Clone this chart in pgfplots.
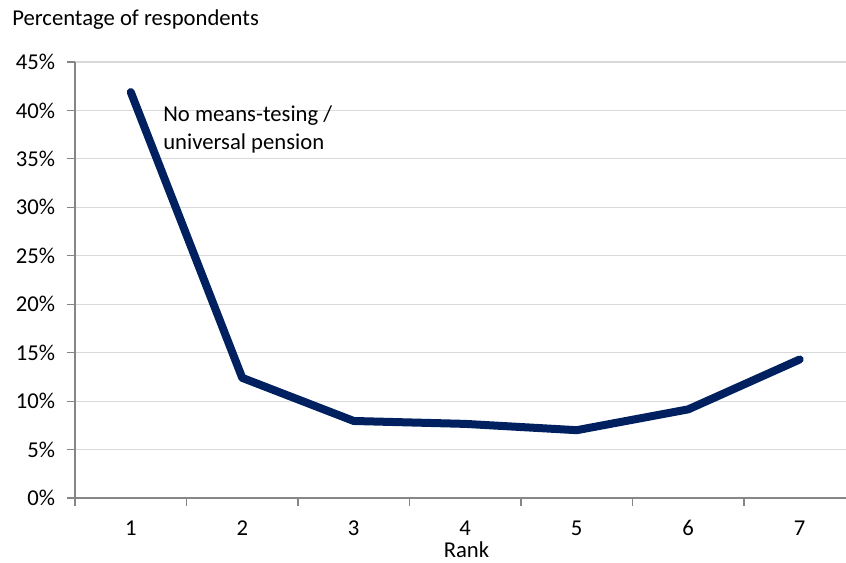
\documentclass[border=0pt]{standalone}
\usepackage{pgfplots}
\pgfplotsset{compat=1.18}
\usepackage{fontspec}
\setmainfont{Carlito}
\definecolor{navy}{RGB}{0,32,96}
\definecolor{axisgrey}{RGB}{134,134,134}
\definecolor{gridgrey}{RGB}{217,217,217}
\begin{document}
\begin{tikzpicture}[x=1pt,y=1pt]
\fontsize{17}{20}\selectfont
\path[use as bounding box] (-56.25,-48) rectangle (578.25,373.5);
\begin{axis}[
  at={(0,0)}, anchor=south west,
  scale only axis,
  width=578.25pt, height=327pt,
  xmin=0.5, xmax=7.415,
  ymin=0, ymax=45,
  axis x line*=bottom, axis y line*=left,
  axis line style={axisgrey, line width=0.9pt},
  xtick={1,...,7},
  minor xtick={0.5,1.5,...,7.5},
  major x tick style={draw=none},
  minor x tick style={axisgrey, line width=0.9pt},
  minor tick length=6pt,
  ytick={0,5,...,45},
  yticklabel={\pgfmathprintnumber{\tick}\%},
  /pgf/number format/assume math mode=true,
  y tick style={axisgrey, line width=0.9pt},
  major tick length=6pt,
  tick align=outside,
  ymajorgrids,
  grid style={gridgrey, line width=0.9pt},
  ticklabel style={font=\fontsize{17}{20}\selectfont},
  yticklabel style={xshift=-3pt},
  xticklabel style={yshift=-5pt},
  xlabel={Rank},
  xlabel style={font=\fontsize{17}{20}\selectfont, at={(axis description cs:0.5,0)}, anchor=center, yshift=-38.5pt, xshift=4.5pt},
  clip=false,
]
\addplot[navy, line width=6pt, line join=round, line cap=round] coordinates {
  (1,41.9) (2,12.4) (3,7.95) (4,7.65) (5,7.0) (6,9.15) (7,14.3)
};
\node[anchor=west, align=left, font=\fontsize{17}{21}\selectfont, inner sep=0pt] at (axis cs:1.29,38.0) {No means-tesing /\\universal pension};
\end{axis}
\node[anchor=west, inner sep=0pt] at (-47.25,358.5) {Percentage of respondents};
\end{tikzpicture}
\end{document}
